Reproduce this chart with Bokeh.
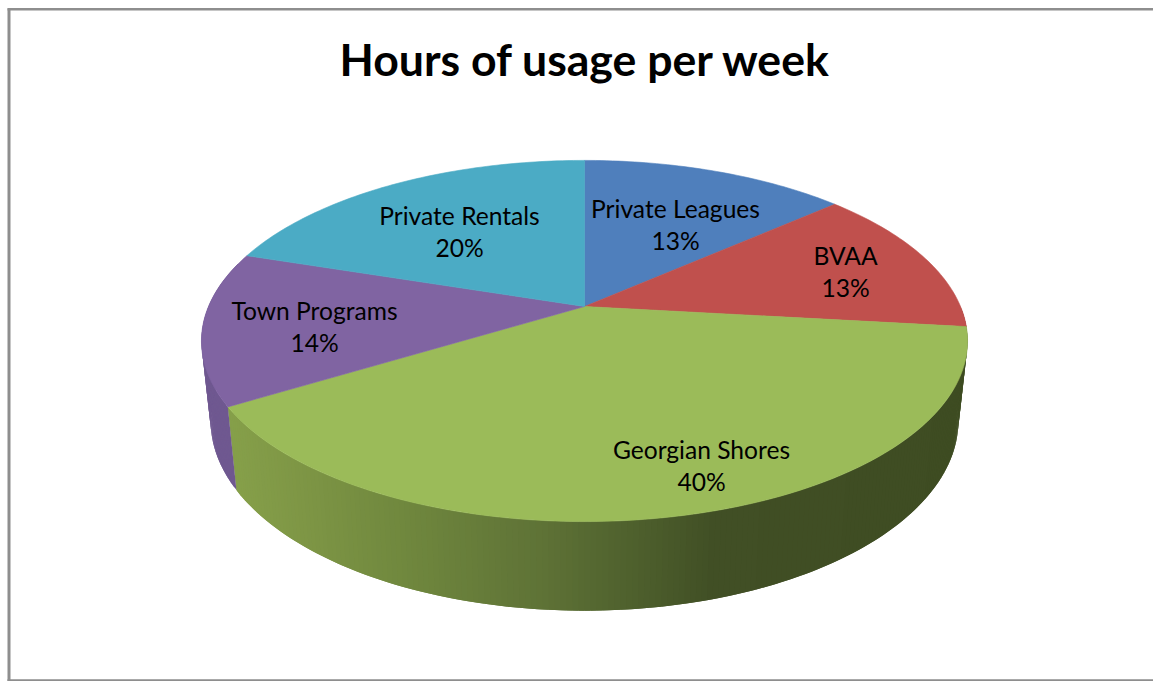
import math
from bokeh.plotting import figure
from bokeh.models import Range1d
from bokeh.core.properties import value
from bokeh.embed import file_html
from bokeh.resources import INLINE

# ---- chart data ----
title = "Hours of usage per week"
categories = ["Private Leagues", "BVAA", "Georgian Shores", "Town Programs", "Private Rentals"]
shares = [13.49, 13.31, 39.5, 13.7, 20.0]
percent_labels = ["13%", "13%", "40%", "14%", "20%"]

# ---- styling ----
top_colors = ["#4f7fbc", "#c0504d", "#9bbb59", "#8064a2", "#4babc5"]
side_colors = ["#3f6090", "#8f3b39", None, "#6f5890", "#38839a"]
label_centres = [(675, 208), (845, 255), (701, 449), (314, 310), (459, 215)]
line_gap = 32
green_stops = [(228, (134, 160, 74)), (300, (126, 150, 69)), (400, (112, 136, 62)),
               (540, (94, 114, 54)), (650, (75, 92, 43)), (710, (65, 79, 37)), (970, (62, 76, 34))]

# perspective disc parameters (screen pixels)
CX = 584
TOP = dict(a=376.0, b=174.0, cy=306.0)
BOT = dict(a=367.0, b=183.0, cy=384.0)
P = 0.191


def project(theta_deg, disc, r=1.0):
    t = math.radians(theta_deg)
    X, Y = r * math.sin(t), r * math.cos(t)
    w = 1 + P * Y
    return CX + disc["a"] * X / w, disc["cy"] - disc["b"] * Y / w


def green_at(x):
    for (x0, c0), (x1, c1) in zip(green_stops, green_stops[1:]):
        if x <= x1:
            f = max(0.0, (x - x0) / (x1 - x0))
            return "#%02x%02x%02x" % tuple(round(a + (b - a) * f) for a, b in zip(c0, c1))
    return "#%02x%02x%02x" % green_stops[-1][1]


W, H = 1153, 681
p = figure(width=W, height=H, output_backend="svg", toolbar_location=None,
           x_range=Range1d(0, W), y_range=Range1d(H, 0),
           min_border=0, outline_line_color=None, background_fill_color="white")
p.axis.visible = False
p.grid.visible = False

# frame
border = "#8e8e8e"
p.line([8.5, 8.5], [8, 681], line_color=border, line_width=3)
p.line([7, 1153], [8.8, 8.8], line_color=border, line_width=2.5)
p.line([7, 1153], [680, 680], line_color=border, line_width=2.5)

# slice angles
edges = [0.0]
for s in shares:
    edges.append(edges[-1] + s * 3.6)

# side wall: narrow overlapping strips, painted in order
sx, sy, sc = [], [], []
STEP = 0.75
for i, cat in enumerate(categories):
    a0, a1 = edges[i], edges[i + 1]
    lo, hi = max(a0, 90.0), min(a1, 285.0)
    if hi <= lo:
        continue
    n = max(1, int((hi - lo) / STEP))
    for k in range(n):
        t0 = lo + (hi - lo) * k / n
        t1 = lo + (hi - lo) * min(n, k + 2) / n
        q = [project(t0, TOP), project(t1, TOP), project(t1, BOT), project(t0, BOT)]
        sx.append([c[0] for c in q])
        sy.append([c[1] for c in q])
        mid = sum(c[0] for c in q) / 4
        sc.append(side_colors[i] or green_at(mid))
p.patches(sx, sy, fill_color=sc, line_color=None)

# top face
for i, cat in enumerate(categories):
    a0, a1 = edges[i], edges[i + 1]
    n = max(2, int((a1 - a0) / 1.0))
    xs, ys = [CX], [TOP["cy"]]
    for k in range(n + 1):
        x, y = project(a0 + (a1 - a0) * k / n, TOP)
        xs.append(x)
        ys.append(y)
    p.patch(xs, ys, fill_color=top_colors[i], line_color=top_colors[i], line_width=0.6)

# title and labels
p.text([585], [58], text=[title], text_font=value("Lato"), text_font_style="bold",
       text_font_size="44.6px", text_color="#000000", text_align="center", text_baseline="middle")
for (cx, cy), name, pct in zip(label_centres, categories, percent_labels):
    p.text([cx], [cy], text=[name], text_font=value("Lato"), text_font_size="24.6px",
           text_color="#000000", text_align="center", text_baseline="middle")
    p.text([cx], [cy + line_gap], text=[pct], text_font=value("Lato"), text_font_size="24.6px",
           text_color="#000000", text_align="center", text_baseline="middle")

open("out.html", "w").write(file_html(p, INLINE))
